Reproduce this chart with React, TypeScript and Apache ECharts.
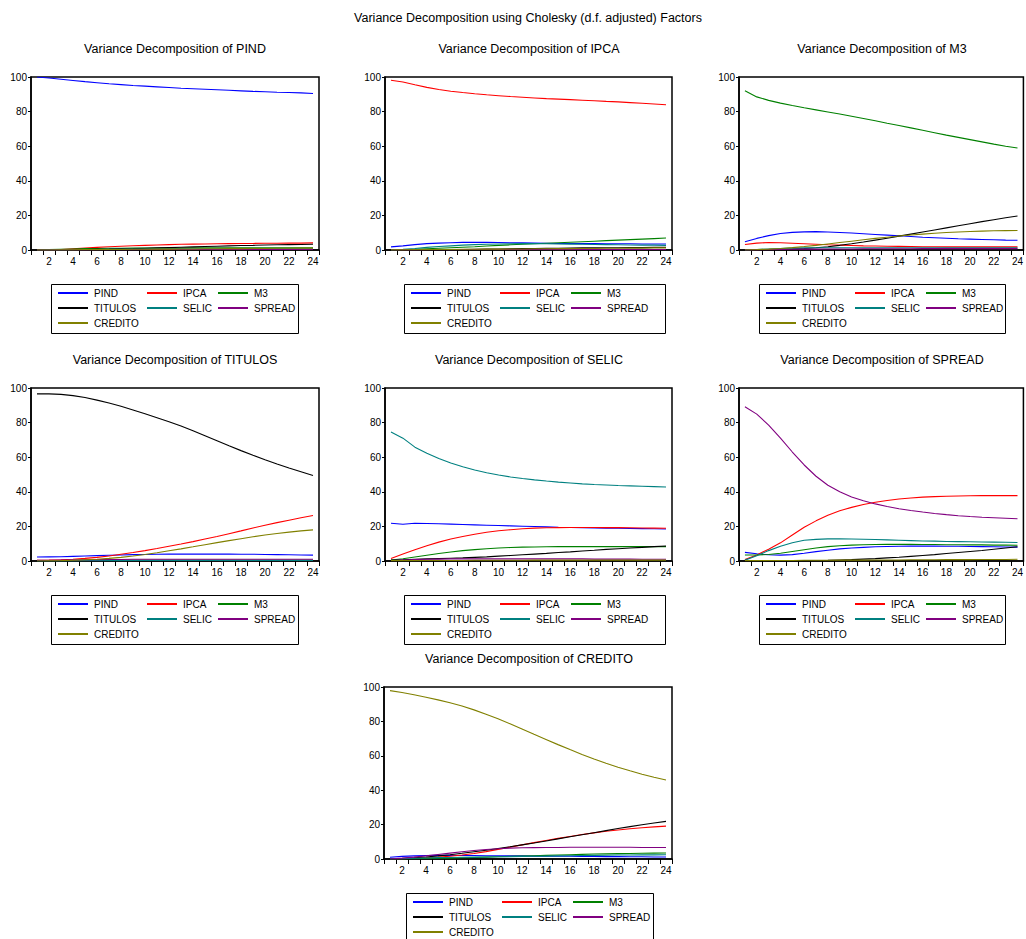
import React, { useEffect, useRef } from "react";
import * as echarts from "echarts";

const PERIODS = ["1","2","3","4","5","6","7","8","9","10","11","12","13","14","15","16","17","18","19","20","21","22","23","24"];
const VARS = ["PIND", "IPCA", "M3", "TITULOS", "SELIC", "SPREAD", "CREDITO"];
const COLORS = ["#0000FF", "#FF0000", "#008000", "#000000", "#008080", "#800080", "#808000"];
const MAIN_TITLE = "Variance Decomposition using Cholesky (d.f. adjusted) Factors";

// Variance decomposition of PIND
const vdPIND_PIND = [100, 99.4, 98.7, 98.0, 97.3, 96.7, 96.1, 95.6, 95.1, 94.7, 94.3, 93.9, 93.5, 93.2, 92.9, 92.6, 92.3, 92.0, 91.7, 91.5, 91.2, 91.0, 90.8, 90.5];
const vdPIND_IPCA = [0, 0.1, 0.3, 0.7, 1.1, 1.5, 1.9, 2.2, 2.5, 2.7, 2.9, 3.1, 3.3, 3.4, 3.5, 3.6, 3.7, 3.8, 3.8, 3.9, 3.9, 4.0, 4.0, 4.1];
const vdPIND_M3 = [0, 0.2, 0.4, 0.6, 0.8, 0.9, 1.0, 1.0, 1.1, 1.1, 1.1, 1.1, 1.1, 1.2, 1.2, 1.2, 1.2, 1.2, 1.2, 1.2, 1.2, 1.2, 1.2, 1.2];
const vdPIND_TITULOS = [0, 0, 0.1, 0.2, 0.3, 0.4, 0.5, 0.7, 0.8, 1.0, 1.2, 1.4, 1.6, 1.8, 2.0, 2.2, 2.4, 2.6, 2.7, 2.9, 3.0, 3.1, 3.2, 3.3];
const vdPIND_SELIC = [0, 0.1, 0.1, 0.2, 0.3, 0.3, 0.4, 0.4, 0.5, 0.5, 0.5, 0.6, 0.6, 0.6, 0.6, 0.6, 0.7, 0.7, 0.7, 0.7, 0.7, 0.7, 0.7, 0.7];
const vdPIND_SPREAD = [0, 0, 0.1, 0.1, 0.1, 0.2, 0.2, 0.2, 0.2, 0.3, 0.3, 0.3, 0.3, 0.3, 0.3, 0.3, 0.3, 0.3, 0.3, 0.3, 0.3, 0.3, 0.3, 0.3];
const vdPIND_CREDITO = [0, 0, 0.1, 0.1, 0.2, 0.2, 0.3, 0.3, 0.4, 0.4, 0.5, 0.5, 0.6, 0.6, 0.7, 0.7, 0.8, 0.8, 0.9, 0.9, 1.0, 1.0, 1.1, 1.1];

// Variance decomposition of IPCA
const vdIPCA_PIND = [1.8, 2.4, 3.1, 3.7, 4.0, 4.2, 4.4, 4.4, 4.4, 4.3, 4.2, 4.1, 4.0, 3.9, 3.8, 3.8, 3.7, 3.7, 3.6, 3.6, 3.6, 3.5, 3.5, 3.5];
const vdIPCA_IPCA = [98.1, 97.1, 95.5, 94.0, 92.8, 91.8, 91.0, 90.3, 89.7, 89.2, 88.7, 88.3, 87.9, 87.5, 87.2, 86.9, 86.6, 86.3, 85.9, 85.6, 85.2, 84.8, 84.4, 84.0];
const vdIPCA_M3 = [0, 0.2, 0.4, 0.7, 1.0, 1.3, 1.6, 1.9, 2.3, 2.7, 3.0, 3.3, 3.6, 3.9, 4.2, 4.5, 4.8, 5.1, 5.4, 5.7, 6.0, 6.3, 6.6, 6.9];
const vdIPCA_TITULOS = [0, 0, 0.1, 0.1, 0.2, 0.3, 0.3, 0.4, 0.5, 0.6, 0.7, 0.8, 0.9, 1.0, 1.0, 1.1, 1.2, 1.2, 1.3, 1.3, 1.4, 1.4, 1.5, 1.5];
const vdIPCA_SELIC = [0, 0.4, 0.9, 1.5, 2.0, 2.4, 2.8, 3.1, 3.3, 3.5, 3.6, 3.7, 3.7, 3.6, 3.5, 3.4, 3.3, 3.2, 3.1, 3.0, 2.9, 2.8, 2.8, 2.7];
const vdIPCA_SPREAD = [0, 0.1, 0.1, 0.2, 0.2, 0.2, 0.3, 0.3, 0.3, 0.3, 0.3, 0.3, 0.3, 0.3, 0.3, 0.3, 0.3, 0.3, 0.3, 0.3, 0.3, 0.3, 0.3, 0.3];
const vdIPCA_CREDITO = [0.1, 0.1, 0.2, 0.2, 0.3, 0.3, 0.4, 0.4, 0.5, 0.5, 0.6, 0.6, 0.7, 0.7, 0.8, 0.8, 0.9, 0.9, 1.0, 1.0, 1.1, 1.1, 1.2, 1.2];

// Variance decomposition of M3
const vdM3_PIND = [4.8, 6.7, 8.3, 9.5, 10.2, 10.5, 10.6, 10.4, 10.1, 9.8, 9.4, 9.0, 8.6, 8.2, 7.8, 7.4, 7.1, 6.8, 6.5, 6.3, 6.1, 5.9, 5.7, 5.6];
const vdM3_IPCA = [3.2, 4.0, 4.3, 4.2, 3.9, 3.6, 3.3, 3.0, 2.8, 2.6, 2.4, 2.3, 2.2, 2.1, 2.0, 1.9, 1.9, 1.8, 1.8, 1.8, 1.8, 1.8, 1.8, 1.8];
const vdM3_M3 = [92.0, 88.5, 86.5, 84.9, 83.5, 82.2, 81.0, 79.8, 78.6, 77.3, 76.0, 74.7, 73.3, 72.0, 70.6, 69.2, 67.8, 66.4, 65.1, 63.8, 62.5, 61.2, 60.0, 59.0];
const vdM3_TITULOS = [0, 0.1, 0.2, 0.4, 0.6, 0.9, 1.3, 1.9, 2.7, 3.6, 4.6, 5.7, 6.8, 8.0, 9.2, 10.4, 11.6, 12.8, 14.0, 15.2, 16.4, 17.5, 18.6, 19.7];
const vdM3_SELIC = [0, 0.3, 0.6, 0.9, 1.1, 1.2, 1.3, 1.3, 1.3, 1.3, 1.3, 1.3, 1.3, 1.3, 1.3, 1.3, 1.2, 1.2, 1.2, 1.2, 1.2, 1.2, 1.2, 1.2];
const vdM3_SPREAD = [0, 0.1, 0.2, 0.3, 0.4, 0.5, 0.5, 0.6, 0.6, 0.6, 0.7, 0.7, 0.7, 0.7, 0.7, 0.8, 0.8, 0.8, 0.8, 0.8, 0.8, 0.8, 0.8, 0.8];
const vdM3_CREDITO = [0, 0.2, 0.5, 0.9, 1.4, 2.0, 2.7, 3.5, 4.3, 5.1, 5.9, 6.7, 7.4, 8.1, 8.7, 9.2, 9.7, 10.1, 10.4, 10.7, 10.9, 11.1, 11.2, 11.3];

// Variance decomposition of TITULOS
const vdTIT_PIND = [2.3, 2.4, 2.5, 2.7, 2.9, 3.1, 3.3, 3.5, 3.7, 3.8, 3.9, 4.0, 4.0, 4.0, 4.0, 4.0, 4.0, 3.9, 3.9, 3.8, 3.7, 3.6, 3.5, 3.4];
const vdTIT_IPCA = [0.4, 0.5, 0.7, 1.0, 1.5, 2.1, 2.9, 3.9, 4.9, 6.0, 7.2, 8.5, 9.8, 11.2, 12.7, 14.2, 15.8, 17.4, 19.1, 20.7, 22.2, 23.6, 25.0, 26.3];
const vdTIT_M3 = [0.3, 0.3, 0.3, 0.4, 0.4, 0.4, 0.5, 0.5, 0.5, 0.5, 0.5, 0.5, 0.5, 0.5, 0.5, 0.5, 0.5, 0.5, 0.5, 0.5, 0.5, 0.5, 0.5, 0.5];
const vdTIT_TITULOS = [96.6, 96.6, 96.3, 95.6, 94.5, 93.0, 91.3, 89.4, 87.3, 85.1, 82.8, 80.5, 78.0, 75.3, 72.4, 69.5, 66.6, 63.8, 61.1, 58.5, 56.1, 53.8, 51.6, 49.4];
const vdTIT_SELIC = [0, 0.1, 0.1, 0.1, 0.2, 0.2, 0.2, 0.2, 0.3, 0.3, 0.3, 0.3, 0.3, 0.3, 0.3, 0.3, 0.3, 0.3, 0.3, 0.3, 0.3, 0.3, 0.3, 0.3];
const vdTIT_SPREAD = [0.4, 0.4, 0.5, 0.6, 0.7, 0.8, 0.9, 0.9, 1.0, 1.0, 1.0, 1.0, 1.0, 1.0, 1.0, 1.0, 1.0, 1.0, 1.0, 1.0, 1.0, 1.0, 1.0, 1.0];
const vdTIT_CREDITO = [0, 0.1, 0.2, 0.4, 0.7, 1.0, 1.5, 2.1, 2.9, 3.8, 4.8, 5.9, 7.0, 8.2, 9.4, 10.6, 11.8, 12.9, 14.0, 15.0, 15.9, 16.7, 17.4, 18.0];

// Variance decomposition of SELIC
const vdSEL_PIND = [21.8, 21.2, 21.8, 21.7, 21.5, 21.3, 21.1, 20.9, 20.7, 20.5, 20.3, 20.1, 19.9, 19.7, 19.5, 19.4, 19.2, 19.1, 19.0, 18.9, 18.8, 18.7, 18.6, 18.5];
const vdSEL_IPCA = [1.5, 4.0, 6.5, 8.8, 10.9, 12.7, 14.2, 15.5, 16.6, 17.5, 18.1, 18.6, 19.0, 19.2, 19.3, 19.4, 19.4, 19.4, 19.3, 19.3, 19.2, 19.1, 19.0, 18.9];
const vdSEL_M3 = [0.5, 1.3, 2.3, 3.3, 4.3, 5.2, 6.0, 6.6, 7.1, 7.5, 7.8, 8.0, 8.1, 8.2, 8.3, 8.3, 8.3, 8.3, 8.3, 8.3, 8.3, 8.3, 8.3, 8.3];
const vdSEL_TITULOS = [0.5, 0.7, 1.0, 1.2, 1.4, 1.6, 1.8, 2.1, 2.4, 2.8, 3.2, 3.6, 4.0, 4.4, 4.9, 5.3, 5.8, 6.2, 6.7, 7.1, 7.5, 7.9, 8.3, 8.7];
const vdSEL_SELIC = [74.5, 71.0, 65.8, 62.3, 59.3, 56.7, 54.5, 52.6, 51.0, 49.7, 48.6, 47.7, 46.9, 46.2, 45.6, 45.1, 44.6, 44.2, 43.9, 43.6, 43.4, 43.2, 43.0, 42.8];
const vdSEL_SPREAD = [0.3, 0.6, 0.8, 1.0, 1.1, 1.2, 1.2, 1.2, 1.2, 1.2, 1.2, 1.2, 1.2, 1.2, 1.2, 1.2, 1.2, 1.1, 1.1, 1.1, 1.1, 1.0, 1.0, 1.0];
const vdSEL_CREDITO = [0.2, 0.2, 0.2, 0.3, 0.3, 0.3, 0.3, 0.4, 0.4, 0.4, 0.4, 0.4, 0.5, 0.5, 0.5, 0.5, 0.5, 0.5, 0.5, 0.5, 0.5, 0.5, 0.5, 0.5];

// Variance decomposition of SPREAD
const vdSPR_PIND = [5.0, 4.2, 3.6, 3.4, 3.7, 4.5, 5.4, 6.2, 7.0, 7.5, 7.9, 8.2, 8.4, 8.5, 8.6, 8.6, 8.6, 8.5, 8.5, 8.4, 8.3, 8.2, 8.1, 8.0];
const vdSPR_IPCA = [0.8, 3.5, 6.8, 10.5, 15.0, 19.5, 23.2, 26.5, 29.0, 31.0, 32.7, 34.0, 35.0, 35.8, 36.4, 36.9, 37.2, 37.4, 37.6, 37.7, 37.8, 37.8, 37.8, 37.8];
const vdSPR_M3 = [3.5, 3.5, 3.8, 4.5, 5.5, 6.5, 7.5, 8.3, 8.8, 9.2, 9.4, 9.5, 9.6, 9.6, 9.6, 9.5, 9.5, 9.4, 9.4, 9.3, 9.3, 9.2, 9.2, 9.1];
const vdSPR_TITULOS = [0, 0.1, 0.1, 0.1, 0.2, 0.2, 0.3, 0.4, 0.6, 0.8, 1.1, 1.4, 1.8, 2.2, 2.7, 3.2, 3.7, 4.3, 4.9, 5.5, 6.1, 6.8, 7.5, 8.2];
const vdSPR_SELIC = [0.5, 3.0, 6.0, 8.5, 10.5, 12.0, 12.5, 12.8, 12.8, 12.7, 12.6, 12.4, 12.2, 12.0, 11.8, 11.6, 11.5, 11.3, 11.2, 11.1, 11.0, 10.9, 10.8, 10.7];
const vdSPR_SPREAD = [89.2, 84.9, 78.5, 71.0, 63.0, 55.5, 49.0, 43.8, 40.0, 37.0, 34.8, 33.0, 31.5, 30.2, 29.2, 28.3, 27.5, 26.8, 26.2, 25.7, 25.3, 25.0, 24.7, 24.4];
const vdSPR_CREDITO = [0.2, 0.2, 0.3, 0.3, 0.3, 0.4, 0.4, 0.4, 0.5, 0.5, 0.5, 0.6, 0.6, 0.6, 0.7, 0.7, 0.7, 0.8, 0.8, 0.8, 0.9, 0.9, 0.9, 1.0];

// Variance decomposition of CREDITO
const vdCRE_PIND = [1.0, 1.5, 1.8, 2.0, 2.1, 2.1, 2.0, 2.0, 1.9, 1.9, 1.8, 1.8, 1.7, 1.7, 1.6, 1.6, 1.5, 1.5, 1.4, 1.4, 1.3, 1.3, 1.2, 1.2];
const vdCRE_IPCA = [0, 0.2, 0.4, 0.7, 1.1, 1.6, 2.3, 3.2, 4.3, 5.6, 6.9, 8.2, 9.5, 10.8, 12.0, 13.1, 14.2, 15.2, 16.1, 16.9, 17.6, 18.2, 18.7, 19.1];
const vdCRE_M3 = [0, 0.1, 0.2, 0.3, 0.4, 0.5, 0.7, 0.9, 1.1, 1.3, 1.5, 1.7, 1.9, 2.1, 2.3, 2.5, 2.7, 2.9, 3.0, 3.1, 3.2, 3.3, 3.4, 3.5];
const vdCRE_TITULOS = [0, 0.3, 0.7, 1.2, 1.8, 2.5, 3.3, 4.2, 5.1, 6.1, 7.1, 8.2, 9.3, 10.5, 11.7, 12.9, 14.1, 15.3, 16.5, 17.7, 18.8, 19.9, 20.9, 21.9];
const vdCRE_SELIC = [0, 0.2, 0.4, 0.6, 0.8, 0.9, 1.0, 1.1, 1.2, 1.3, 1.4, 1.5, 1.6, 1.7, 1.8, 1.9, 2.0, 2.1, 2.2, 2.3, 2.3, 2.4, 2.4, 2.5];
const vdCRE_SPREAD = [0, 0.5, 1.1, 1.8, 2.6, 3.4, 4.2, 4.9, 5.5, 6.0, 6.3, 6.5, 6.6, 6.7, 6.7, 6.8, 6.8, 6.8, 6.8, 6.8, 6.8, 6.7, 6.7, 6.7];
const vdCRE_CREDITO = [97.9, 96.8, 95.5, 94.0, 92.5, 90.8, 88.9, 86.7, 84.2, 81.5, 78.6, 75.6, 72.5, 69.5, 66.5, 63.6, 60.8, 58.2, 55.7, 53.4, 51.3, 49.3, 47.5, 45.9];

const FONT = '"Liberation Sans", Arial, sans-serif';

const PANELS = [
  { target: "PIND", series: [vdPIND_PIND, vdPIND_IPCA, vdPIND_M3, vdPIND_TITULOS, vdPIND_SELIC, vdPIND_SPREAD, vdPIND_CREDITO],
    grid: { left: 31, top: 77, width: 288, height: 173 }, tx: 175, ty: 49, lx: 51, ly: 284, lw: 247 },
  { target: "IPCA", series: [vdIPCA_PIND, vdIPCA_IPCA, vdIPCA_M3, vdIPCA_TITULOS, vdIPCA_SELIC, vdIPCA_SPREAD, vdIPCA_CREDITO],
    grid: { left: 385, top: 77, width: 287, height: 173 }, tx: 529, ty: 49, lx: 404, ly: 284, lw: 261 },
  { target: "M3", series: [vdM3_PIND, vdM3_IPCA, vdM3_M3, vdM3_TITULOS, vdM3_SELIC, vdM3_SPREAD, vdM3_CREDITO],
    grid: { left: 739, top: 77, width: 287, height: 173 }, tx: 882, ty: 49, lx: 759, ly: 284, lw: 246 },
  { target: "TITULOS", series: [vdTIT_PIND, vdTIT_IPCA, vdTIT_M3, vdTIT_TITULOS, vdTIT_SELIC, vdTIT_SPREAD, vdTIT_CREDITO],
    grid: { left: 31, top: 388, width: 288, height: 173 }, tx: 175, ty: 360, lx: 51, ly: 595, lw: 247 },
  { target: "SELIC", series: [vdSEL_PIND, vdSEL_IPCA, vdSEL_M3, vdSEL_TITULOS, vdSEL_SELIC, vdSEL_SPREAD, vdSEL_CREDITO],
    grid: { left: 385, top: 388, width: 287, height: 173 }, tx: 529, ty: 360, lx: 404, ly: 595, lw: 261 },
  { target: "SPREAD", series: [vdSPR_PIND, vdSPR_IPCA, vdSPR_M3, vdSPR_TITULOS, vdSPR_SELIC, vdSPR_SPREAD, vdSPR_CREDITO],
    grid: { left: 739, top: 388, width: 287, height: 173 }, tx: 882, ty: 360, lx: 759, ly: 595, lw: 246 },
  { target: "CREDITO", series: [vdCRE_PIND, vdCRE_IPCA, vdCRE_M3, vdCRE_TITULOS, vdCRE_SELIC, vdCRE_SPREAD, vdCRE_CREDITO],
    grid: { left: 384, top: 687, width: 288, height: 172 }, tx: 529, ty: 659, lx: 406, ly: 893, lw: 247 },
];

function buildOption() {
  const grids: any[] = [];
  const xAxes: any[] = [];
  const yAxes: any[] = [];
  const series: any[] = [];
  const graphics: any[] = [];

  graphics.push({
    id: "main-title", type: "text", x: 528, y: 18,
    style: { text: MAIN_TITLE, fontSize: 12.5, fontFamily: FONT, fill: "#000", align: "center", verticalAlign: "middle" },
  });

  const colLine = [7, 96, 167];
  const colText = [43, 132, 203];

  PANELS.forEach((p, i) => {
    grids.push({ ...p.grid, show: true, borderColor: "#000", borderWidth: 1.5, backgroundColor: "transparent", containLabel: false });
    xAxes.push({
      type: "category", gridIndex: i, data: PERIODS, boundaryGap: true,
      axisLine: { show: true, lineStyle: { color: "#000", width: 1.5 } },
      axisTick: { show: true, interval: 0, length: 5, lineStyle: { color: "#000" } },
      axisLabel: { interval: (idx: number) => idx % 2 === 1, fontSize: 10, fontFamily: FONT, color: "#000", margin: 6 },
      splitLine: { show: false },
    });
    yAxes.push({
      type: "value", gridIndex: i, min: 0, max: 100, interval: 20,
      axisLine: { show: true, lineStyle: { color: "#000", width: 1.5 } },
      axisTick: { show: true, length: 3, lineStyle: { color: "#000" } },
      axisLabel: { fontSize: 10, fontFamily: FONT, color: "#000", margin: 4 },
      splitLine: { show: false },
    });
    p.series.forEach((vals, k) => {
      series.push({
        type: "line", name: VARS[k], xAxisIndex: i, yAxisIndex: i, data: vals,
        showSymbol: false, symbol: "none", silent: true,
        lineStyle: { color: COLORS[k], width: 1.1 }, itemStyle: { color: COLORS[k] },
      });
    });

    graphics.push({
      id: "title-" + i, type: "text", x: p.tx, y: p.ty,
      style: { text: "Variance Decomposition of " + p.target, fontSize: 12.5, fontFamily: FONT, fill: "#000", align: "center", verticalAlign: "middle" },
    });

    graphics.push({
      id: "lgbox-" + i, type: "rect", z: 10,
      shape: { x: p.lx + 0.5, y: p.ly + 0.5, width: p.lw, height: 49 },
      style: { fill: "#ffffff", stroke: "#000000", lineWidth: 1 },
    });
    VARS.forEach((v, k) => {
      const r = Math.floor(k / 3);
      const c = k % 3;
      const yy = p.ly + 9 + r * 15;
      graphics.push({
        id: "lgline-" + i + "-" + k, type: "line", z: 11,
        shape: { x1: p.lx + colLine[c], y1: yy, x2: p.lx + colLine[c] + 30, y2: yy },
        style: { stroke: COLORS[k], lineWidth: 2 },
      });
      graphics.push({
        id: "lgtext-" + i + "-" + k, type: "text", z: 11, x: p.lx + colText[c], y: yy,
        style: { text: v, fontSize: 10, fontFamily: FONT, fill: "#000", verticalAlign: "middle" },
      });
    });
  });

  return {
    animation: false,
    backgroundColor: "#fff",
    grid: grids,
    xAxis: xAxes,
    yAxis: yAxes,
    series,
    graphic: { elements: graphics },
  };
}

export default function App() {
  const ref = useRef<HTMLDivElement>(null);
  useEffect(() => {
    if (!ref.current) return;
    const chart = echarts.init(ref.current, undefined, { renderer: "svg" });
    chart.setOption(buildOption() as any);
    return () => chart.dispose();
  }, []);
  return <div ref={ref} style={{ position: "fixed", left: 0, top: 0, width: 1026, height: 939 }} />;
}
